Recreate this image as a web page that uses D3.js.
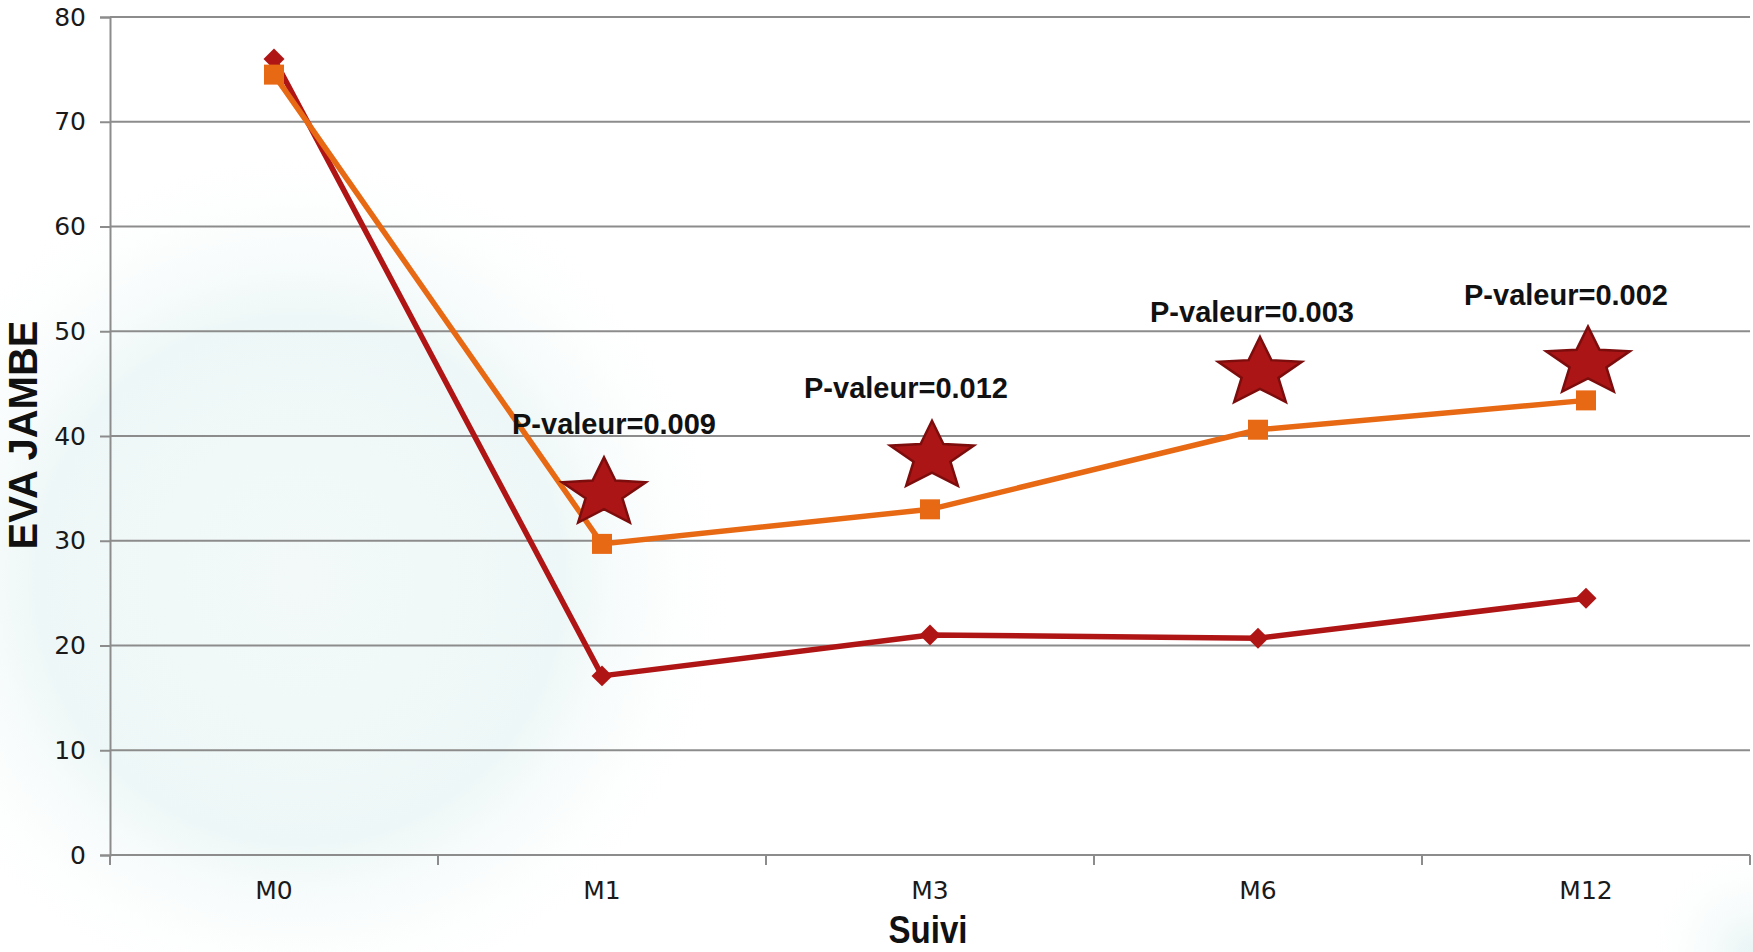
<!DOCTYPE html>
<html>
<head>
<meta charset="utf-8">
<script src="https://cdn.jsdelivr.net/npm/d3@7"></script>
<style>
  html, body { margin: 0; padding: 0; background: #fff; }
  svg { display: block; }
</style>
</head>
<body>
<svg id="chart" width="1753" height="952"></svg>
<script>
// Follow-up visits
const categories = ["M0", "M1", "M3", "M6", "M12"];
// EVA JAMBE scores per visit
const seriesRed = [76.0, 17.1, 21.0, 20.7, 24.5];
const seriesOrange = [74.5, 29.7, 33.0, 40.6, 43.4];
// Significance annotations (visits M1..M12)
const pCategories = ["M1", "M3", "M6", "M12"];
const pLabels = ["P-valeur=0.009", "P-valeur=0.012", "P-valeur=0.003", "P-valeur=0.002"];
const starLevels = [34.9, 38.4, 46.4, 47.4];
const labelLevels = [40.2, 43.6, 50.9, 52.5];
const yTicks = [0, 10, 20, 30, 40, 50, 60, 70, 80];

const W = 1753, H = 952;
const margin = { left: 110, right: 3, top: 17, bottom: 97 };
const svg = d3.select("#chart");

// soft background tint
const defs = svg.append("defs");
const g1 = defs.append("radialGradient").attr("id", "tintLeft")
  .attr("gradientUnits", "userSpaceOnUse").attr("cx", 300).attr("cy", 580).attr("r", 440);
g1.append("stop").attr("offset", "0").attr("stop-color", "#f3f9f9");
g1.append("stop").attr("offset", "0.6").attr("stop-color", "#eef7f7");
g1.append("stop").attr("offset", "1").attr("stop-color", "#ffffff").attr("stop-opacity", 0);
const g2 = defs.append("radialGradient").attr("id", "tintCorner")
  .attr("gradientUnits", "userSpaceOnUse").attr("cx", 1753).attr("cy", 952).attr("r", 110);
g2.append("stop").attr("offset", "0").attr("stop-color", "#e8f4f4");
g2.append("stop").attr("offset", "1").attr("stop-color", "#ffffff").attr("stop-opacity", 0);
svg.append("rect").attr("width", W).attr("height", H).attr("fill", "#fff");
svg.append("rect").attr("width", W).attr("height", H).attr("fill", "url(#tintLeft)");
svg.append("rect").attr("width", W).attr("height", H).attr("fill", "url(#tintCorner)");

const x = d3.scaleBand().domain(categories)
  .range([margin.left, W - margin.right]).paddingInner(0).paddingOuter(0);
const y = d3.scaleLinear().domain([0, 80]).range([H - margin.bottom, margin.top]);
const cx = c => x(c) + x.bandwidth() / 2;

const gridColor = "#8c8c8c";

// horizontal gridlines
svg.append("g").selectAll("line").data(yTicks.filter(t => t > 0)).join("line")
  .attr("x1", margin.left).attr("x2", W - margin.right)
  .attr("y1", d => y(d)).attr("y2", d => y(d))
  .attr("stroke", gridColor).attr("stroke-width", 2);

// y axis
const yAxis = svg.append("g").attr("transform", `translate(${margin.left},0)`)
  .call(d3.axisLeft(y).tickValues(yTicks).tickSize(10).tickPadding(14));
yAxis.select(".domain").attr("stroke", gridColor).attr("stroke-width", 2);
yAxis.selectAll(".tick line").attr("stroke", gridColor).attr("stroke-width", 2);
yAxis.selectAll("text").attr("font-family", "DejaVu Sans, sans-serif")
  .attr("font-size", 25).attr("fill", "#1a1a1a");

// x axis
const xAxis = svg.append("g").attr("transform", `translate(0,${y(0)})`)
  .call(d3.axisBottom(x).tickSize(0).tickPadding(26));
xAxis.select(".domain").remove();
xAxis.append("line").attr("x1", margin.left).attr("x2", W - margin.right)
  .attr("stroke", gridColor).attr("stroke-width", 2);
xAxis.selectAll(".sep").data(categories.map(c => x(c)).concat([W - margin.right])).join("line")
  .attr("class", "sep").attr("x1", d => d).attr("x2", d => d)
  .attr("y1", 0).attr("y2", 10).attr("stroke", gridColor).attr("stroke-width", 2);
xAxis.selectAll(".tick text").attr("font-family", "DejaVu Sans, sans-serif")
  .attr("font-size", 25).attr("fill", "#1a1a1a");

// axis titles
svg.append("text").attr("x", cx("M3") - 2).attr("y", 943)
  .attr("text-anchor", "middle")
  .attr("font-family", "'Liberation Sans', Arial, sans-serif")
  .attr("font-weight", "bold").attr("font-size", 38).attr("fill", "#111")
  .attr("textLength", 79).attr("lengthAdjust", "spacingAndGlyphs")
  .text("Suivi");
svg.append("text")
  .attr("transform", `translate(37,${435}) rotate(-90)`)
  .attr("text-anchor", "middle")
  .attr("font-family", "'Liberation Sans', Arial, sans-serif")
  .attr("font-weight", "bold").attr("font-size", 40).attr("fill", "#111")
  .text("EVA JAMBE");

// series lines
const line = d3.line().x((d, i) => cx(categories[i])).y(d => y(d));
const red = "#b01515", orange = "#e86914";

svg.append("path").datum(seriesRed).attr("d", line)
  .attr("fill", "none").attr("stroke", red).attr("stroke-width", 5.5);
svg.append("g").selectAll("path").data(seriesRed).join("path")
  .attr("d", d3.symbol(d3.symbolSquare, 220))
  .attr("transform", (d, i) => `translate(${cx(categories[i])},${y(d)}) rotate(45)`)
  .attr("fill", red);

svg.append("path").datum(seriesOrange).attr("d", line)
  .attr("fill", "none").attr("stroke", orange).attr("stroke-width", 5.5);
svg.append("g").selectAll("rect").data(seriesOrange).join("rect")
  .attr("x", (d, i) => cx(categories[i]) - 10).attr("y", d => y(d) - 10)
  .attr("width", 20).attr("height", 20).attr("fill", orange);

// significance stars
function starPath(rx, ry) {
  const pts = [];
  for (let k = 0; k < 10; k++) {
    const a = -Math.PI / 2 + k * Math.PI / 5;
    const r = k % 2 === 0 ? 1 : 0.44;
    pts.push([Math.cos(a) * r * rx, Math.sin(a) * r * ry]);
  }
  return "M" + pts.map(p => p.join(",")).join("L") + "Z";
}
const starShape = starPath(44, 36);
svg.append("g").selectAll("path").data(starLevels).join("path")
  .attr("d", starShape)
  .attr("transform", (d, i) => `translate(${cx(pCategories[i]) + 2},${y(d) + 4})`)
  .attr("fill", "#ab1515").attr("stroke", "#7d0d0d").attr("stroke-width", 2.5)
  .attr("stroke-linejoin", "miter");

const labelDx = [12, -24, -6, -20];
svg.append("g").selectAll("text").data(labelLevels).join("text")
  .attr("x", (d, i) => cx(pCategories[i]) + labelDx[i])
  .attr("y", d => y(d))
  .attr("text-anchor", "middle")
  .attr("font-family", "'Liberation Sans', Arial, sans-serif")
  .attr("font-weight", "bold").attr("font-size", 29).attr("fill", "#111")
  .text((d, i) => pLabels[i]);
</script>
</body>
</html>
